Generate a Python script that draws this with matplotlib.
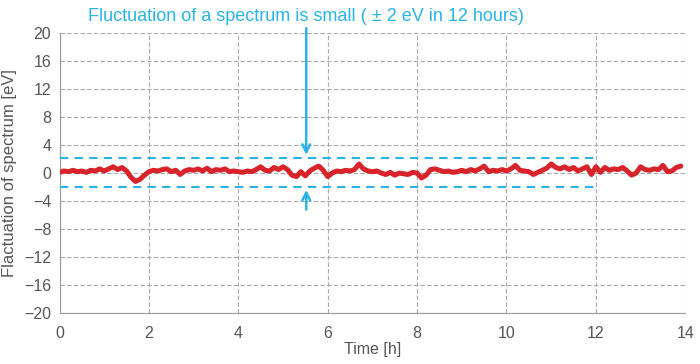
import numpy as np
import matplotlib.pyplot as plt

plt.rcParams['font.family'] = ['Liberation Sans', 'DejaVu Sans']

# time in hours, 0.1 h steps
time_h = np.round(np.arange(0, 14.0, 0.1), 1)
fluct = [
    0.1, 0.3, 0.2, 0.4, 0.2, 0.3, 0.1, 0.4, 0.3, 0.6,
    0.3, 0.6, 0.9, 0.5, 0.8, 0.3, -0.6, -1.2, -0.9, -0.3,
    0.2, 0.4, 0.3, 0.5, 0.6, 0.2, 0.4, -0.2, 0.3, 0.5,
    0.4, 0.6, 0.3, 0.7, 0.2, 0.5, 0.4, 0.6, 0.2, 0.3,
    0.2, 0.1, 0.3, 0.2, 0.5, 0.9, 0.4, 0.3, 0.8, 0.5,
    0.9, 0.5, -0.3, -0.5, 0.2, -0.4, 0.3, 0.7, 1.0, 0.4,
    -0.5, 0.0, 0.3, 0.2, 0.4, 0.3, 0.5, 1.3, 0.6, 0.3,
    0.2, 0.3, 0.0, -0.2, 0.1, -0.3, 0.0, -0.1, -0.2, 0.1,
    0.0, -0.7, -0.3, 0.5, 0.6, 0.4, 0.2, 0.3, 0.1, 0.2,
    0.4, 0.2, 0.5, 0.3, 0.6, 1.0, 0.2, 0.4, 0.3, 0.5,
    0.3, 0.6, 1.1, 0.4, 0.3, 0.2, -0.2, 0.1, 0.4, 0.7,
    1.3, 0.8, 0.6, 0.9, 0.5, 0.8, 0.3, 0.6, 0.9, -0.2,
    0.9, 0.1, 0.8, 0.4, 0.6, 0.5, 0.8, 0.3, -0.3, 0.0,
    0.9, 0.5, 0.4, 0.6, 0.5, 1.1, 0.2, 0.3, 0.8, 1.0,
]
band_upper = 2.2
band_lower = -2.0
band_end = 12
arrow_x = 5.52

blue = '#29b3e6'
grey = '#555555'

fig = plt.figure(figsize=(7, 3.64), dpi=100)
ax = fig.add_axes([0.085, 0.14, 0.894, 0.769])

ax.plot(time_h, fluct, color='#d9232b', lw=3.6, solid_capstyle='round', zorder=3)

ax.hlines([band_upper, band_lower], 0, band_end, colors=blue, linestyles=(0, (4, 3)), lw=1.5, zorder=4)

ax.annotate('', xy=(arrow_x, band_upper), xytext=(arrow_x, 21.1),
            arrowprops=dict(arrowstyle='->', color=blue, lw=1.8, mutation_scale=14),
            annotation_clip=False)
ax.annotate('', xy=(arrow_x, band_lower), xytext=(arrow_x, -5.6),
            arrowprops=dict(arrowstyle='->', color=blue, lw=1.8, mutation_scale=14),
            annotation_clip=False)

fig.text(0.437, 0.955, 'Fluctuation of a spectrum is small ( \u00b1 2 eV in 12 hours)',
         color=blue, fontsize=13, ha='center', va='center')

ax.set_xlim(0, 14)
ax.set_ylim(-20, 20)
ax.set_xticks(np.arange(0, 15, 2))
ax.set_yticks(np.arange(-20, 21, 4))
ax.grid(True, color='#aaaaaa', ls=(0, (4, 2)), lw=0.8)
ax.set_axisbelow(True)
for s in ['top', 'right']:
    ax.spines[s].set_visible(False)
for s in ['left', 'bottom']:
    ax.spines[s].set_color('#999999')
ax.tick_params(axis='x', pad=9)
ax.tick_params(axis='y', pad=6)
ax.tick_params(length=0, labelsize=11.5, colors=grey)
ax.set_xlabel('Time [h]', fontsize=11.5, color=grey, labelpad=1)
ax.set_ylabel('Flactuation of spectrum [eV]', fontsize=12, color=grey, labelpad=5)

fig.savefig('out.png', dpi=100)
